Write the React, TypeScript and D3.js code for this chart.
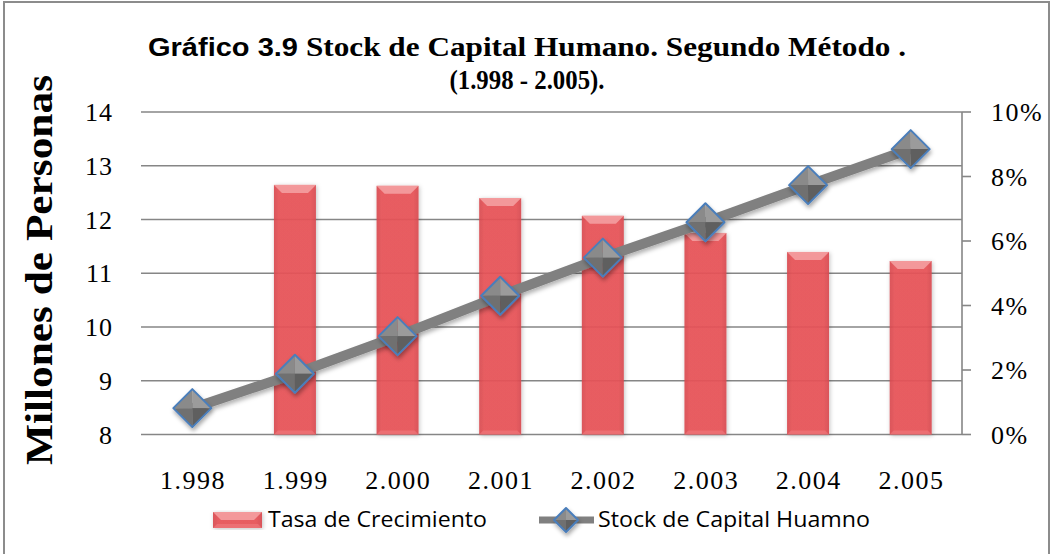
import React from "react";
import * as d3 from "d3";

const years = ["1.998", "1.999", "2.000", "2.001", "2.002", "2.003", "2.004", "2.005"];
const growthRate = [null, 0.0774, 0.0771, 0.0733, 0.0678, 0.0625, 0.0566, 0.0538];
const stock = [8.49, 9.13, 9.83, 10.58, 11.29, 11.95, 12.64, 13.31];
const leftTicks = [8, 9, 10, 11, 12, 13, 14];
const rightTicks = [0, 0.02, 0.04, 0.06, 0.08, 0.1];

const W = 1052;
const H = 554;
const M = { left: 141, right: 962, top: 112, bottom: 434.5 };
const serif = "'Liberation Serif', 'DejaVu Serif', serif";
const sans = "'Open Sans', 'Noto Sans', sans-serif";

export default function App() {
  const xc = d3.scalePoint<string>().domain(years).range([M.left, M.right]).padding(0.5);
  const yL = d3.scaleLinear().domain([8, 14]).range([M.bottom, M.top]);
  const yR = d3.scaleLinear().domain([0, 0.1]).range([M.bottom, M.top]);
  const bw = 42;

  const line = d3
    .line<number>()
    .x((_, i) => xc(years[i]) as number)
    .y((d) => yL(d));

  const diamond = (cx: number, cy: number, r: number, key: string) => (
    <g key={key} filter="url(#shadow)">
      <polygon points={`${cx},${cy - r} ${cx + r},${cy} ${cx},${cy}`} fill="#9b9b9b" />
      <polygon points={`${cx},${cy - r} ${cx - r},${cy} ${cx},${cy}`} fill="#8a8a8a" />
      <polygon points={`${cx - r},${cy} ${cx},${cy + r} ${cx},${cy}`} fill="#6f6f6f" />
      <polygon points={`${cx + r},${cy} ${cx},${cy + r} ${cx},${cy}`} fill="#5f5f5f" />
      <polygon
        points={`${cx},${cy - r} ${cx + r},${cy} ${cx},${cy + r} ${cx - r},${cy}`}
        fill="none"
        stroke="#4a7ebb"
        strokeWidth={2}
        strokeLinejoin="round"
      />
    </g>
  );

  const bar = (bx: number, by: number, w: number, h: number, key: string) => {
    const b = Math.min(8, h / 2);
    return (
      <g key={key} filter="url(#barShadow)">
        <rect x={bx} y={by} width={w} height={h} fill="url(#barGrad)" opacity={0.92} />
        <polygon
          points={`${bx},${by} ${bx + w},${by} ${bx + w - b},${by + b} ${bx + b},${by + b}`}
          fill="#f4a3a5"
          opacity={0.85}
        />
        <polygon
          points={`${bx},${by + h} ${bx + w},${by + h} ${bx + w - 4},${by + h - 4} ${bx + 4},${by + h - 4}`}
          fill="#f07c80"
          opacity={0.6}
        />
      </g>
    );
  };

  return (
    <svg width={W} height={H} style={{ position: "absolute", left: 0, top: 0 }}>
      <defs>
        <linearGradient id="barGrad" x1="0" x2="1" y1="0" y2="0">
          <stop offset="0" stopColor="#d84a4f" />
          <stop offset="0.12" stopColor="#e85358" />
          <stop offset="0.88" stopColor="#e85358" />
          <stop offset="1" stopColor="#d84a4f" />
        </linearGradient>
        <filter id="shadow" x="-50%" y="-50%" width="200%" height="200%">
          <feDropShadow dx="1" dy="3" stdDeviation="2" floodColor="#000" floodOpacity="0.35" />
        </filter>
        <filter id="barShadow" x="-30%" y="-10%" width="160%" height="120%">
          <feDropShadow dx="1" dy="1" stdDeviation="2" floodColor="#000" floodOpacity="0.25" />
        </filter>
        <filter id="lineShadow" x="-10%" y="-10%" width="120%" height="130%">
          <feDropShadow dx="1" dy="3" stdDeviation="2" floodColor="#000" floodOpacity="0.3" />
        </filter>
      </defs>
      <rect x={0} y={0} width={W} height={H} fill="#fff" />
      <rect x={4} y={2} width={1045} height={H + 10} fill="none" stroke="#8c8c8c" strokeWidth={2} />

      {/* Title */}
      <text
        x={148}
        y={56}
        fontFamily="'Liberation Sans', Arial, sans-serif"
        fontWeight="bold"
        fontSize={25}
        textLength={150}
        lengthAdjust="spacingAndGlyphs"
        fill="#000"
      >
        Gráfico 3.9
      </text>
      <text
        x={306}
        y={56}
        fontFamily={serif}
        fontWeight="bold"
        fontSize={27}
        textLength={600}
        lengthAdjust="spacingAndGlyphs"
        fill="#000"
      >
        Stock de Capital Humano.  Segundo Método .
      </text>
      <text
        x={527}
        y={89}
        textAnchor="middle"
        fontSize={27}
        fontWeight="bold"
        fontFamily={serif}
        textLength={155}
        lengthAdjust="spacingAndGlyphs"
        fill="#000"
      >
        (1.998 - 2.005).
      </text>

      {/* Gridlines */}
      {leftTicks.map((t) => (
        <line key={"g" + t} x1={M.left} x2={M.right} y1={yL(t)} y2={yL(t)} stroke="#868686" strokeWidth={1.6} />
      ))}

      {/* Left tick labels */}
      {leftTicks.map((t) => (
        <text
          key={"l" + t}
          x={113}
          y={yL(t)}
          dy="0.35em"
          textAnchor="end"
          fontFamily={serif}
          fontSize={26}
          letterSpacing={1}
          fill="#000"
        >
          {t}
        </text>
      ))}

      {/* Right axis */}
      <line x1={M.right} x2={M.right} y1={M.top} y2={M.bottom} stroke="#868686" strokeWidth={1.6} />
      {rightTicks.map((t) => (
        <g key={"r" + t}>
          <line x1={M.right} x2={M.right + 9} y1={yR(t)} y2={yR(t)} stroke="#868686" strokeWidth={1.6} />
          <text x={991} y={yR(t)} dy="0.35em" fontFamily={serif} fontSize={26} letterSpacing={1.5} fill="#000">
            {d3.format(".0%")(t)}
          </text>
        </g>
      ))}

      {/* Y title */}
      <text
        transform={`translate(52,270) rotate(-90)`}
        textAnchor="middle"
        fontFamily={serif}
        fontWeight="bold"
        fontSize={37}
        textLength={390}
        lengthAdjust="spacingAndGlyphs"
        fill="#000"
      >
        Millones de Personas
      </text>

      {/* Bars */}
      {growthRate.map((v, i) => {
        if (v == null) return null;
        const cx = xc(years[i]) as number;
        return bar(cx - bw / 2, yR(v), bw, M.bottom - yR(v), "b" + i);
      })}

      {/* Line */}
      <path d={line(stock) || ""} fill="none" stroke="#808080" strokeWidth={10} filter="url(#lineShadow)" />
      {stock.map((v, i) => diamond(xc(years[i]) as number, yL(v), 19, "m" + i))}

      {/* X labels */}
      {years.map((yv) => (
        <text
          key={"x" + yv}
          x={(xc(yv) as number) + 0.75}
          y={489}
          textAnchor="middle"
          fontFamily={serif}
          fontSize={26}
          letterSpacing={1.5}
          fill="#000"
        >
          {yv}
        </text>
      ))}

      {/* Legend */}
      {bar(213, 512, 49, 16, "legbar")}
      <text x={268} y={527} fontFamily={sans} fontSize={21} textLength={219} lengthAdjust="spacingAndGlyphs" fill="#000">
        Tasa de Crecimiento
      </text>
      <line x1={539} x2={594} y1={520} y2={520} stroke="#808080" strokeWidth={7} />
      {diamond(566, 520, 12, "legm")}
      <text x={598} y={527} fontFamily={sans} fontSize={21} textLength={272} lengthAdjust="spacingAndGlyphs" fill="#000">
        Stock de Capital Huamno
      </text>
    </svg>
  );
}
